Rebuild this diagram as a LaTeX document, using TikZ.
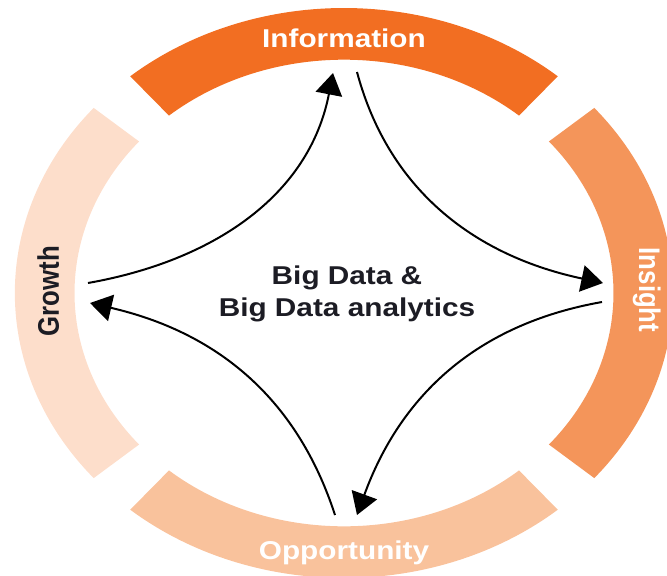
\documentclass[tikz,border=0pt]{standalone}
\usepackage{fontspec}
\setmainfont{Liberation Sans}
\usetikzlibrary{arrows.meta}

\definecolor{infoOrange}{HTML}{F26E22}
\definecolor{insightOrange}{HTML}{F4955A}
\definecolor{oppOrange}{HTML}{F9C29C}
\definecolor{growthOrange}{HTML}{FDDECB}
\definecolor{textDark}{HTML}{1C1C24}

\begin{document}
\begin{tikzpicture}[
    flow/.style={-{Triangle[length=6.5mm,width=8mm]}, line width=1.7pt},
    ringlabel/.style={font=\fontsize{22}{26}\selectfont\bfseries, anchor=base},
  ]
    \useasboundingbox (-10.32,-8.46) rectangle (9.69,8.79);
    \clip (-10.32,-8.46) rectangle (9.69,8.79);

    % Ring segments
    \begin{scope}[xscale=1.155]
    \foreach \a/\col in {0/insightOrange,90/infoOrange,180/growthOrange,270/oppOrange} {
        \fill[\col] (\a-40.5:8.55) arc[start angle=\a-40.5, end angle=\a+40.5, radius=8.55]
            -- (\a+40.5:7) arc[start angle=\a+40.5, end angle=\a-40.5, radius=7] -- cycle;
    }
    \end{scope}

    % Ring labels
    \node[ringlabel, text=white, xscale=1.155] (info) at (0,7.38) {Information};
    \node[ringlabel, text=white, xscale=1.155] (opp) at (0,-7.98) {Opportunity};
    \node[ringlabel, text=white, xscale=1.155, rotate=-90] (insight) at (8.85,0.09) {Insight};
    \node[ringlabel, text=textDark, xscale=1.155, rotate=90] (growth) at (-8.55,0.06) {Growth};

    % Centre text
    \node[font=\fontsize{22}{27}\selectfont\bfseries, text=textDark, align=center, xscale=1.155] (core) at (0.09,-0.03) {Big Data \&\\Big Data analytics};

    % Flow arrows
    \coordinate (g1) at (-7.68,0.30);
    \coordinate (g2) at (-7.62,-0.30);
    \coordinate (i1) at (-0.33,6.60);
    \coordinate (i2) at (0.39,6.63);
    \coordinate (s1) at (7.77,0.30);
    \coordinate (s2) at (7.74,-0.27);
    \coordinate (o1) at (0.39,-6.66);
    \coordinate (o2) at (-0.27,-6.66);
    \draw[flow] (g1) to[out=10, in=-101] (i1);
    \draw[flow] (i2) to[out=-75, in=168] (s1);
    \draw[flow] (s2) to[out=190, in=70] (o1);
    \draw[flow] (o2) to[out=108, in=-13] (g2);
\end{tikzpicture}
\end{document}
